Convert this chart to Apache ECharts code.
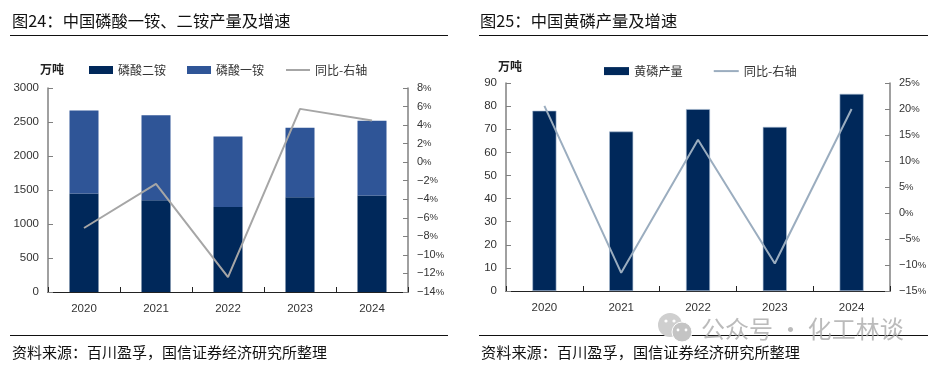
<!DOCTYPE html>
<html><head><meta charset="utf-8">
<style>html,body{margin:0;padding:0;background:#fff}#c{width:936px;height:366px}</style>
<script src="https://cdn.jsdelivr.net/npm/echarts@6/dist/echarts.min.js"></script>
</head><body><div id="c"></div>
<script>
const years = ['2020','2021','2022','2023','2024'];
const dap = [1450,1350,1250,1395,1420];
const map = [1220,1250,1035,1020,1100];
const yoyLeft = [-7.1,-2.35,-12.4,5.75,4.5];
const phosphorus = [78,69,78.7,71,85.3];
const yoyRight = [20.6,-11.5,14.1,-9.7,20];
const titleLeft = '图24：中国磷酸一铵、二铵产量及增速';
const titleRight = '图25：中国黄磷产量及增速';
const source = '资料来源：百川盈孚，国信证券经济研究所整理';
const unit = '万吨';
const watermark = '公众号 · 化工林谈';

const NUM = '"Liberation Sans","Noto Sans CJK SC",sans-serif';
const CJK = '"Noto Sans CJK SC",sans-serif';
const DARK = '#00285a', BLUE = '#2f5597', EDGE = '#a9bdd3', GREY = '#a6a6a6', SLATE = '#9badbf', AX = '#808080', TXT = '#333';
const pct = v => '{n|' + String(v).replace('-', '−') + '}{p|%}';
const lab = {fontFamily: NUM, fontSize: 11.5, color: TXT};
const yAxis = (g, min, max, step, fmt, pos) => ({
  type: 'value', gridIndex: g, min, max, interval: step, position: pos,
  splitLine: {show: false},
  axisLine: {show: true, lineStyle: {color: AX, width: 1.5}},
  axisTick: {show: true, inside: true, length: 5, lineStyle: {color: AX}},
  axisLabel: Object.assign({}, lab, {margin: 9, formatter: fmt, rich: {
    n: {fontFamily: NUM, fontSize: 11, color: TXT},
    p: {fontFamily: NUM, fontSize: 9.5, color: TXT}
  }})
});
const xAxis = g => ({
  type: 'category', gridIndex: g, data: years,
  axisLine: {lineStyle: {color: '#222', width: 1.2}},
  axisTick: {show: true, inside: true, length: 5, lineStyle: {color: '#222'}},
  axisLabel: Object.assign({}, lab, {margin: 11})
});
const txt = (x, y, text, size, fill, weight) => ({
  type: 'text', x, y, silent: true,
  style: {text, fontSize: size, fontFamily: CJK, fontWeight: weight || 'normal', fill, textVerticalAlign: 'middle'}
});
const rule = (x1, x2, y) => ({
  type: 'line', silent: true, shape: {x1, x2, y1: y, y2: y},
  style: {stroke: '#111', lineWidth: 1}
});
const dot = (cx, cy, r, fill) => ({type: 'circle', silent: true, shape: {cx, cy, r}, style: {fill}});
const legendBase = {
  selectedMode: false, itemWidth: 24, itemHeight: 8, itemGap: 21, top: 64, padding: 0,
  textStyle: {fontFamily: CJK, fontSize: 12, color: TXT}
};
const lineLegend = c => ({name: '同比-右轴', itemStyle: {color: c, opacity: 0, borderWidth: 0}, lineStyle: {color: c, width: 2}});

const chart = echarts.init(document.getElementById('c'), null, {renderer: 'canvas'});
chart.setOption({
  backgroundColor: '#fff',
  animation: false,
  grid: [
    {left: 48, right: 528, top: 88, bottom: 74},
    {left: 506, right: 46, top: 83, bottom: 75}
  ],
  xAxis: [xAxis(0), xAxis(1)],
  yAxis: [
    yAxis(0, 0, 3000, 500, v => v, 'left'),
    yAxis(0, -14, 8, 2, pct, 'right'),
    yAxis(1, 0, 90, 10, v => v, 'left'),
    yAxis(1, -15, 25, 5, pct, 'right')
  ],
  legend: [
    Object.assign({}, legendBase, {left: 89, data: [
      {name: '磷酸二铵', icon: 'rect'}, {name: '磷酸一铵', icon: 'rect'}, lineLegend(GREY)
    ]}),
    Object.assign({}, legendBase, {left: 604, top: 65, itemGap: 30, itemWidth: 25,
      textStyle: Object.assign({}, legendBase.textStyle, {fontSize: 12.2}), data: [
      {name: '黄磷产量', icon: 'rect', itemStyle: {color: DARK, borderWidth: 0}}, lineLegend(SLATE)
    ]})
  ],
  series: [
    {name: '磷酸二铵', type: 'bar', stack: 'a', xAxisIndex: 0, yAxisIndex: 0, data: dap, barWidth: 29,
     itemStyle: {color: DARK}},
    {name: '磷酸一铵', type: 'bar', stack: 'a', xAxisIndex: 0, yAxisIndex: 0, data: map, barWidth: 29,
     itemStyle: {color: BLUE}},
    {name: '同比-右轴', type: 'line', xAxisIndex: 0, yAxisIndex: 1, data: yoyLeft, showSymbol: false,
     symbol: 'none', z: 5, lineStyle: {color: GREY, width: 2}, itemStyle: {color: GREY}},
    {name: '黄磷产量', type: 'bar', xAxisIndex: 1, yAxisIndex: 2, data: phosphorus, barWidth: 24,
     itemStyle: {color: DARK, borderColor: EDGE, borderWidth: 0.6}},
    {name: '同比-右轴', type: 'line', xAxisIndex: 1, yAxisIndex: 3, data: yoyRight, showSymbol: false,
     symbol: 'none', z: 5, lineStyle: {color: SLATE, width: 2}, itemStyle: {color: SLATE}}
  ],
  graphic: [
    txt(12, 21, titleLeft, 16.3, '#111'),
    txt(480, 21, titleRight, 16.3, '#111'),
    rule(10, 448, 35.5),
    rule(479, 928, 35.5),
    rule(10, 448, 335.5),
    rule(479, 928, 335.5),
    txt(12, 352, source, 15, '#111'),
    txt(481, 352, source, 15.2, '#111'),
    txt(40, 69, unit, 12, '#222', 'bold'),
    txt(498, 66, unit, 12, '#222', 'bold'),
    dot(670, 325, 12, '#cfcfcf'),
    dot(666, 321, 1.6, '#fff'),
    dot(674, 321, 1.6, '#fff'),
    {type: 'circle', silent: true, shape: {cx: 682, cy: 332, r: 10}, style: {fill: '#c4c4c4', stroke: '#fff', lineWidth: 1}},
    dot(678, 330, 1.4, '#fff'),
    dot(686, 330, 1.4, '#fff'),
    txt(701, 329, watermark, 24, 'rgba(170,170,170,0.8)')
  ]
});
</script></body></html>
